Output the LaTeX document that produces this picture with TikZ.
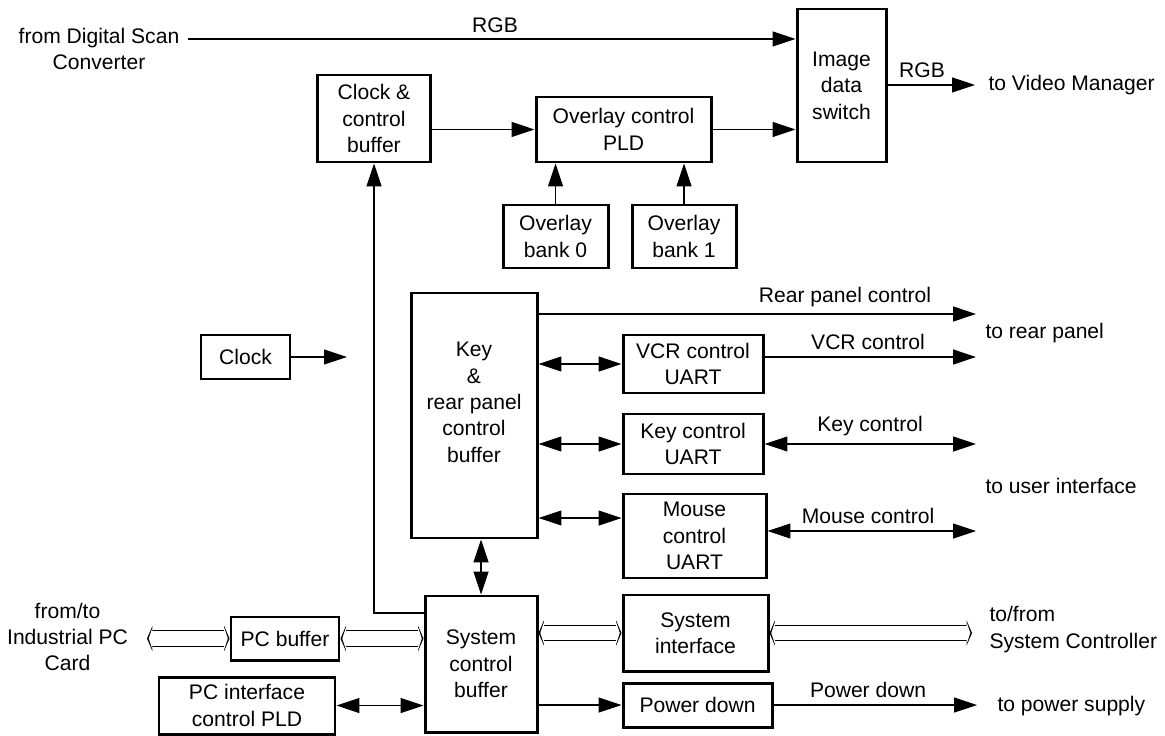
\documentclass[tikz,border=0pt]{standalone}
\usepackage{fontspec}
\setmainfont{Liberation Sans}
\usetikzlibrary{arrows.meta}

\def\px{0.02cm}

\begin{document}
\begin{tikzpicture}[x=\px, y=-\px, line width=0.6pt, font=\fontsize{12}{15}\selectfont]
    \tikzstyle{block}=[draw, line width=1.7pt, align=center, inner sep=0pt]
    \tikzset{boxsize/.style 2 args={minimum width=#1*\px, minimum height=#2*\px}}
    \tikzstyle{sig}=[-{Triangle[length=13pt,width=8.5pt]}]
    \tikzstyle{bisig}=[{Triangle[length=13pt,width=8.5pt]}-{Triangle[length=13pt,width=8.5pt]}]
    \tikzstyle{bus}=[line width=9.6pt,
        {Triangle[length=3pt,width=14pt,line width=0pt]}-{Triangle[length=3pt,width=14pt,line width=0pt]},
        postaction={draw=white, line width=8.4pt, shorten <=1pt, shorten >=1pt,
        {Triangle[length=2pt,width=12pt,line width=0pt]}-{Triangle[length=2pt,width=12pt,line width=0pt]}}]
    \tikzstyle{annot}=[inner sep=0pt, align=center]

    \useasboundingbox (0,0) rectangle (1165,736);

    % Draw the blocks
    \node[block, boxsize={113}{87}] (clkbuf) at (374,118.5) {Clock \&\\control\\buffer};
    \node[block, boxsize={175}{65}] (ovlpld) at (623.5,129.5) {Overlay control\\PLD};
    \node[block, boxsize={89}{153}] (imgsw) at (841.5,85.5) {Image\\data\\switch};
    \node[block, boxsize={105}{63}] (bank0) at (555.5,236.5) {Overlay\\bank 0};
    \node[block, boxsize={104}{63}] (bank1) at (684,236.5) {Overlay\\bank 1};
    \node[block, boxsize={89}{44}] (clock) at (245.5,357) {Clock};
    \node[block, boxsize={126}{245}] (keybuf) at (474,415.5) {Key\\\&\\rear panel\\control\\buffer\\\mbox{}};
    \node[block, boxsize={140}{58}] (vcr) at (693,364) {VCR control\\UART};
    \node[block, boxsize={140}{60}] (keyuart) at (693,444) {Key control\\UART};
    \node[block, boxsize={143}{84}] (mouse) at (694.5,536) {Mouse\\control\\UART};
    \node[block, boxsize={112}{136}] (sysbuf) at (481,664) {System\\control\\buffer};
    \node[block, boxsize={145}{76}] (sysif) at (695.5,633) {System\\interface};
    \node[block, boxsize={149}{44}] (pwr) at (697.5,705) {Power down};
    \node[block, boxsize={108}{43}] (pcbuf) at (285,638.5) {PC buffer};
    \node[block, boxsize={176}{57}] (pcif) at (247,705.5) {PC interface\\control PLD};

    % Free ends of the outside connections
    \coordinate (rgbin) at (188,39);
    \coordinate (vidout) at (975,85);
    \coordinate (clkout) at (347,357);
    \coordinate (rpout) at (976,314);
    \coordinate (vcrout) at (976,357);
    \coordinate (keyout) at (976,444);
    \coordinate (mouseout) at (976,531);
    \coordinate (sysout) at (972,633);
    \coordinate (pwrout) at (977,705);
    \coordinate (pcout) at (147,638.5);

    % Image path
    \draw[sig] (rgbin) -- (rgbin -| imgsw.west);
    \draw[sig] (clkbuf.east |- ovlpld.west) -- (ovlpld.west);
    \draw[sig] (ovlpld.east) -- (ovlpld.east -| imgsw.west);
    \draw[sig] (imgsw.east |- vidout) -- (vidout);
    \draw[sig] (bank0.north) -- (bank0.north |- ovlpld.south);
    \draw[sig] (bank1.north) -- (bank1.north |- ovlpld.south);

    % Clock and control
    \draw[sig] (clock.east) -- (clkout);
    \draw[sig] (sysbuf.west |- 0,613) -| (clkbuf.south);
    \draw[bisig] (sysbuf.north) -- (sysbuf.north |- keybuf.south);

    % Rear panel and user interface
    \draw[sig] (keybuf.east |- rpout) -- (rpout);
    \draw[bisig] (keybuf.east |- vcr.west) -- (vcr.west);
    \draw[sig] (vcr.east |- vcrout) -- (vcrout);
    \draw[bisig] (keybuf.east |- keyuart.west) -- (keyuart.west);
    \draw[bisig] (keyuart.east) -- (keyout);
    \draw[bisig] (keybuf.east |- 0,518) -- (mouse.west |- 0,518);
    \draw[bisig] (mouse.east |- mouseout) -- (mouseout);

    % System side
    \draw[bus] (sysbuf.east |- sysif.west) -- (sysif.west);
    \draw[bus] (sysif.east) -- (sysout);
    \draw[sig] (sysbuf.east |- pwr.west) -- (pwr.west);
    \draw[sig] (pwr.east) -- (pwrout);
    \draw[bus] (pcout) -- (pcbuf.west);
    \draw[bus] (pcbuf.east) -- (pcbuf.east -| sysbuf.west);
    \draw[bisig] (pcif.east) -- (pcif.east -| sysbuf.west);

    % Annotate the connections
    \node[annot] (dsc) at (99,49) {from Digital Scan\\Converter};
    \node[annot] (rgblbl) at (495,25) {RGB};
    \node[annot] (vidlbl) at (922,70) {RGB};
    \node[annot, anchor=west] (tovid) at (988,85) {to Video Manager};
    \node[annot] (rplbl) at (845,297) {Rear panel control};
    \node[annot] (vcrlbl) at (868,342) {VCR control};
    \node[annot] (keylbl) at (870,426) {Key control};
    \node[annot] (mouselbl) at (868,516) {Mouse control};
    \node[annot, anchor=west] (torear) at (985,333) {to rear panel};
    \node[annot, anchor=west] (touser) at (985,486) {to user interface};
    \node[annot, anchor=west, align=left] (tosys) at (989,629.5) {to/from\\System Controller};
    \node[annot] (pwrlbl) at (868,690) {Power down};
    \node[annot, anchor=west] (topwr) at (997,706) {to power supply};
    \node[annot] (topc) at (67.5,637) {from/to\\Industrial PC\\Card};
\end{tikzpicture}
\end{document}
